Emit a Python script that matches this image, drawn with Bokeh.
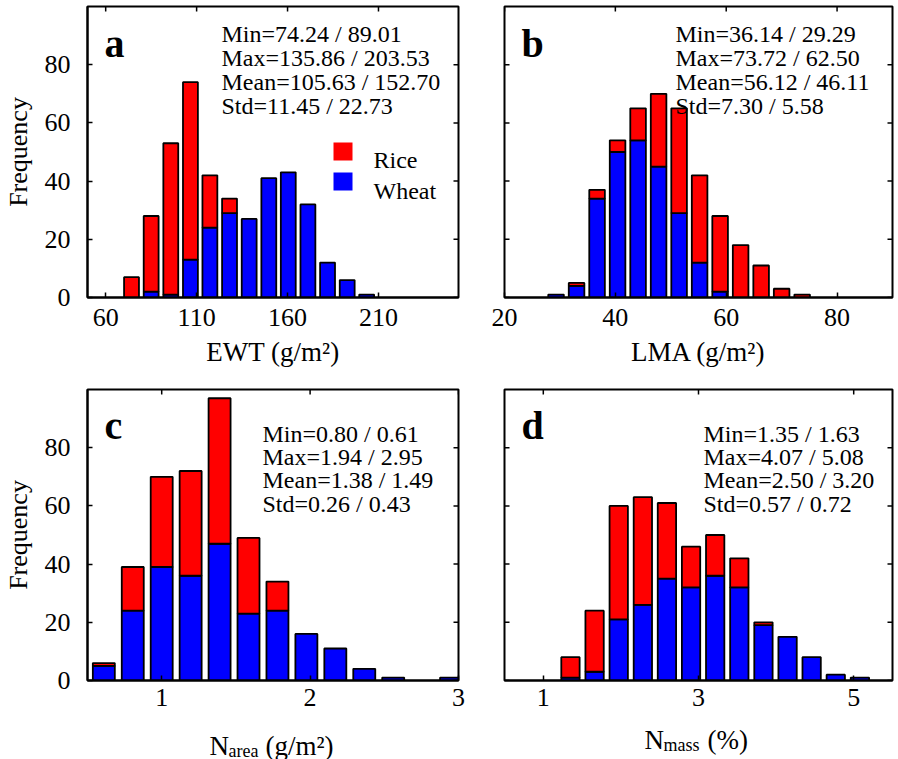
import math
from bokeh.plotting import figure
from bokeh.models import Range1d, FixedTicker, Label, BoxAnnotation
from bokeh.layouts import gridplot
from bokeh.embed import file_html
from bokeh.resources import INLINE

# ---------------- data ----------------
ewt_centers = [74.2, 85.0, 95.8, 106.6, 117.3, 128.1, 138.9, 149.7, 160.4, 171.2, 182.0, 192.8, 203.5]
ewt_wheat = [0, 2, 1, 13, 24, 29, 27, 41, 43, 32, 12, 6, 1]
ewt_rice = [7, 26, 52, 61, 18, 5, 0, 0, 0, 0, 0, 0, 0]
ewt_ticks = [60, 110, 160, 210]
ewt_stats = ["Min=74.24 / 89.01", "Max=135.86 / 203.53", "Mean=105.63 / 152.70", "Std=11.45 / 22.73"]

lma_centers = [29.3, 33.0, 36.7, 40.4, 44.1, 47.8, 51.5, 55.2, 58.9, 62.6, 66.3, 70.0, 73.7]
lma_wheat = [1, 4, 34, 50, 54, 45, 29, 12, 2, 0, 0, 0, 0]
lma_rice = [0, 1, 3, 4, 11, 25, 36, 30, 26, 18, 11, 3, 1]
lma_ticks = [20, 40, 60, 80]
lma_stats = ["Min=36.14 / 29.29", "Max=73.72 / 62.50", "Mean=56.12 / 46.11", "Std=7.30 / 5.58"]

narea_centers = [0.61, 0.805, 1.0, 1.195, 1.39, 1.585, 1.78, 1.975, 2.17, 2.365, 2.56, 2.755, 2.95]
narea_wheat = [5, 24, 39, 36, 47, 23, 24, 16, 11, 4, 1, 0, 1]
narea_rice = [1, 15, 31, 36, 50, 26, 10, 0, 0, 0, 0, 0, 0]
narea_ticks = [1, 2, 3]
narea_stats = ["Min=0.80 / 0.61", "Max=1.94 / 2.95", "Mean=1.38 / 1.49", "Std=0.26 / 0.43"]

nmass_centers = [1.35, 1.661, 1.972, 2.283, 2.593, 2.904, 3.215, 3.526, 3.837, 4.148, 4.458, 4.769, 5.08]
nmass_wheat = [1, 3, 21, 26, 35, 32, 36, 32, 19, 15, 8, 2, 1]
nmass_rice = [7, 21, 39, 37, 26, 14, 14, 10, 1, 0, 0, 0, 0]
nmass_ticks = [1, 3, 5]
nmass_stats = ["Min=1.35 / 1.63", "Max=4.07 / 5.08", "Mean=2.50 / 3.20", "Std=0.57 / 0.72"]

freq_ticks = [0, 20, 40, 60, 80]
series_names = ["Rice", "Wheat"]
Y_MAX = 100

# ---------------- style ----------------
RED = "#ff0000"
BLUE = "#0000ff"
FONT = "Liberation Serif"
FRAME_H = 291
TICK = 5


def style_axis(ax, ticks):
    ax.ticker = FixedTicker(ticks=ticks)
    ax.major_tick_in = TICK
    ax.major_tick_out = 0
    ax.minor_tick_in = 0
    ax.minor_tick_out = 0
    ax.major_tick_line_width = 1.5
    ax.major_tick_line_color = "black"
    ax.axis_line_width = 2
    ax.axis_line_color = "black"
    ax.major_label_text_font = FONT
    ax.major_label_text_font_size = "26px"
    ax.major_label_text_color = "black"
    ax.axis_label_text_font = FONT
    ax.axis_label_text_font_style = "normal"
    ax.axis_label_text_font_size = "27px"
    ax.axis_label_text_color = "black"


def panel(centers, wheat, rice, xr, xticks, stats, letter, width, height,
          bl, br, bt, bb, show_y, stat_x, stat_top, letter_top, xlabel, tick_standoff):
    p = figure(width=width, height=height, x_range=Range1d(*xr), y_range=Range1d(0, Y_MAX),
               output_backend="svg", toolbar_location=None,
               x_axis_location="below", y_axis_location=("left" if show_y else None),
               min_border_left=bl, min_border_right=br, min_border_top=bt, min_border_bottom=bb)
    p.xgrid.visible = False
    p.ygrid.visible = False
    p.outline_line_color = "black"
    p.outline_line_width = 2
    p.background_fill_color = "white"
    p.border_fill_color = "white"

    bw = (centers[-1] - centers[0]) / (len(centers) - 1) * 0.76
    wx = [c for c, w in zip(centers, wheat) if w > 0]
    wt = [w for w in wheat if w > 0]
    rx = [c for c, r in zip(centers, rice) if r > 0]
    rb = [w for w, r in zip(wheat, rice) if r > 0]
    rt = [w + r for w, r in zip(wheat, rice) if r > 0]
    p.vbar(x=wx, bottom=0, top=wt, width=bw, fill_color=BLUE, line_color="black", line_width=1.8)
    p.vbar(x=rx, bottom=rb, top=rt, width=bw, fill_color=RED, line_color="black", line_width=1.8)

    # axes
    style_axis(p.xaxis[0], xticks)
    p.xaxis[0].major_label_standoff = tick_standoff
    p.xaxis[0].axis_label_standoff = 8
    if xlabel is not None:
        p.xaxis[0].axis_label = xlabel
    if show_y:
        style_axis(p.yaxis[0], freq_ticks)
        p.yaxis[0].major_label_standoff = 17
        p.yaxis[0].axis_label = "Frequency"
        p.yaxis[0].axis_label_text_font_size = "26px"
        p.yaxis[0].axis_label_standoff = 9
    else:
        p.ray(x=xr[0], y=freq_ticks, length=TICK, length_units="screen", angle=0,
              line_color="black", line_width=1.5)
    # mirrored inward ticks (top and right)
    p.ray(x=xticks, y=Y_MAX, length=TICK, length_units="screen", angle=-math.pi / 2,
          line_color="black", line_width=1.5)
    p.ray(x=xr[1], y=freq_ticks, length=TICK, length_units="screen", angle=math.pi,
          line_color="black", line_width=1.5)

    # stats text
    for s, off in zip(stats, stat_top):
        p.add_layout(Label(x=stat_x, y=FRAME_H - off, x_units="screen", y_units="screen", text=s,
                           text_font=FONT, text_font_size="24px", text_color="black",
                           text_baseline="alphabetic", text_align="left"))
    p.add_layout(Label(x=17, y=FRAME_H - letter_top, x_units="screen", y_units="screen", text=letter,
                       text_font=FONT, text_font_size="40px", text_font_style="bold", text_color="black",
                       text_baseline="alphabetic", text_align="left"))
    return p


W_L, W_R = 481, 417
BL_L, BR_L, BL_R, BR_R = 86, 23, 23, 6
H_TOP, H_MID, STRIP_H = 377, 338, 44

pa = panel(ewt_centers, ewt_wheat, ewt_rice, (50, 254), ewt_ticks, ewt_stats, "a", W_L, H_TOP,
           BL_L, BR_L, 6, 80, True, 134, [27, 51, 75, 99], 37, "EWT (g/m²)", 11)
pb = panel(lma_centers, lma_wheat, lma_rice, (20, 90), lma_ticks, lma_stats, "b", W_R, H_TOP,
           BL_R, BR_R, 6, 80, False, 171, [27, 51, 75, 99], 37, "LMA (g/m²)", 11)
pc = panel(narea_centers, narea_wheat, narea_rice, (0.5, 3.0), narea_ticks, narea_stats, "c", W_L, H_MID,
           BL_L, BR_L, 12, 35, True, 175, [44, 67, 90, 114], 36, None, 8)
pd_ = panel(nmass_centers, nmass_wheat, nmass_rice, (0.5, 5.5), nmass_ticks, nmass_stats, "d", W_R, H_MID,
            BL_R, BR_R, 12, 35, False, 199, [44, 67, 90, 114], 36, None, 8)

# legend of panel a (coloured keys + labels)
for name, col, top_off, base_off in [(series_names[0], RED, 136, 153), (series_names[1], BLUE, 166, 184)]:
    pa.add_layout(BoxAnnotation(left=246, right=265, top=FRAME_H - top_off, bottom=FRAME_H - top_off - 18,
                                left_units="screen", right_units="screen", top_units="screen",
                                bottom_units="screen", fill_color=col, fill_alpha=1, line_color=None))
    pa.add_layout(Label(x=286, y=FRAME_H - base_off, x_units="screen", y_units="screen", text=name,
                        text_font=FONT, text_font_size="24px", text_color="black",
                        text_baseline="alphabetic", text_align="left"))


# x-axis titles with subscripts for c and d (drawn in a strip under each panel)
def strip(width, bl, br, frame_w, pieces, y_base):
    s = figure(width=width, height=STRIP_H, x_range=Range1d(0, 1), y_range=Range1d(0, 1),
               output_backend="svg", toolbar_location=None,
               x_axis_location=None, y_axis_location=None,
               min_border_left=bl, min_border_right=br, min_border_top=0, min_border_bottom=0)
    s.xgrid.visible = False
    s.ygrid.visible = False
    s.outline_line_color = None
    s.border_fill_color = "white"
    cx = frame_w / 2
    for text, dx, size, dy in pieces:
        s.add_layout(Label(x=cx + dx, y=y_base - dy, x_units="screen", y_units="screen", text=text,
                           text_font=FONT, text_font_size=size, text_color="black",
                           text_baseline="alphabetic", text_align="left"))
    return s


lc = strip(W_L, BL_L, BR_L, W_L - BL_L - BR_L,
           [("N", -64, "27px", 0), ("area", -45, "18px", 5), ("(g/m²)", -8, "27px", 0)], 14)
ld = strip(W_R, BL_R, BR_R, W_R - BL_R - BR_R,
           [("N", -54, "27px", 0), ("mass", -35, "18px", 5), ("(%)", 9, "27px", 0)], 20)

grid = gridplot([[pa, pb], [pc, pd_], [lc, ld]], toolbar_location=None)
open("out.html", "w").write(file_html(grid, INLINE))
